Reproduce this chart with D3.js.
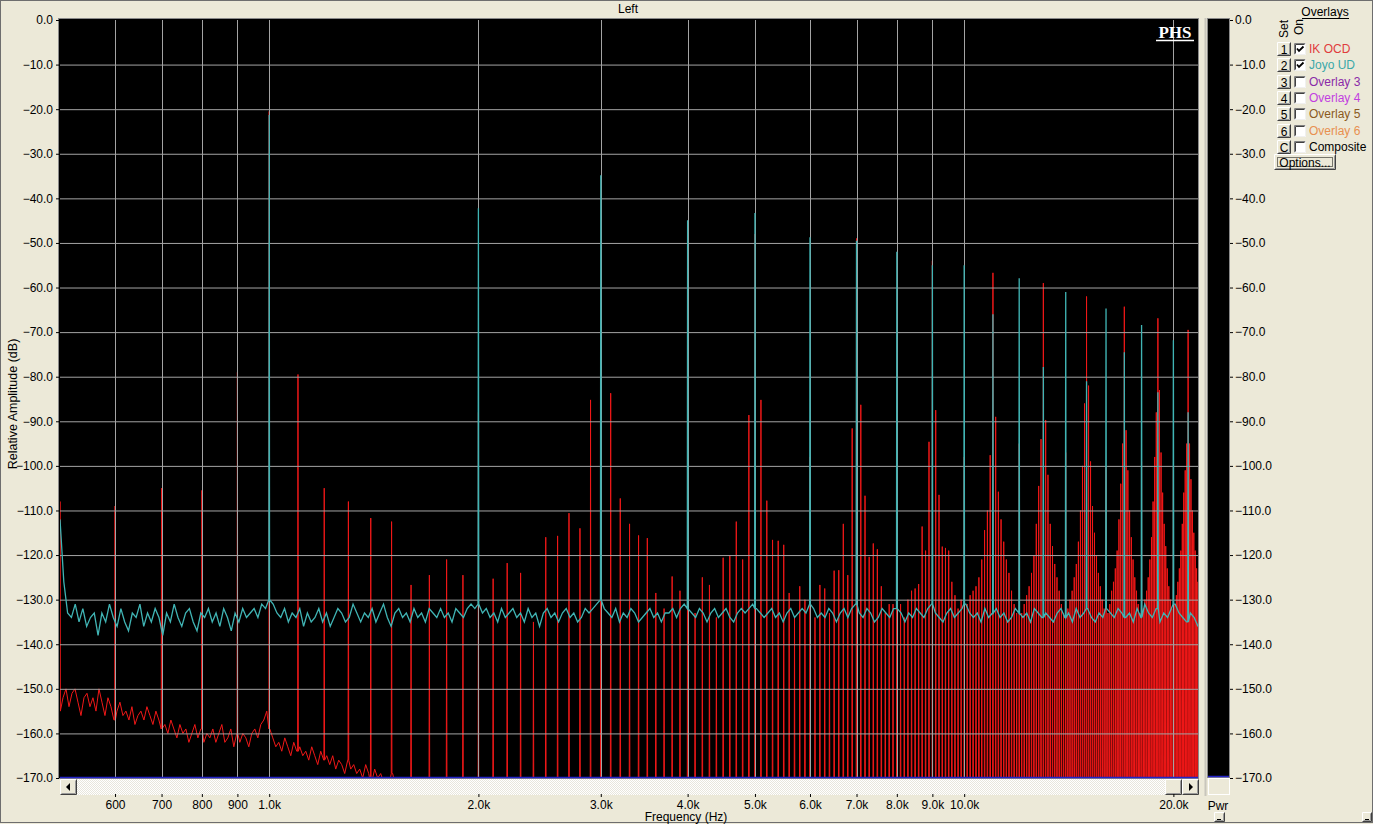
<!DOCTYPE html>
<html>
<head>
<meta charset="utf-8">
<script src="https://cdn.jsdelivr.net/npm/d3@7"></script>
<style>
  body { margin: 0; background: #ece9d8; }
  svg { display: block; font-family: 'Liberation Sans', Arial, sans-serif; }
  .axis text { font-size: 12px; fill: #000; font-family: 'Liberation Sans', Arial, sans-serif; }
  .axis path.domain { display: none; }
  .axis line { stroke: #000; }
</style>
</head>
<body>
<div id="chart"></div>
<script>
const freqRange = [500, 21700];
const dbRange = [-170, 0];

const yTicks = [0, -10, -20, -30, -40, -50, -60, -70, -80, -90, -100, -110, -120, -130, -140, -150, -160, -170];
const xTicks = [600, 700, 800, 900, 1000, 2000, 3000, 4000, 5000, 6000, 7000, 8000, 9000, 10000, 20000];

// Joyo UD: harmonic peaks of the 1 kHz tone
const joyoPeakHz = [1000, 2000, 3000, 4000, 5000, 6000, 7000, 8000, 9000, 10000,
  11000, 12000, 13000, 14000, 15000, 16000, 17000, 18000, 19000, 20000, 21000];
const joyoPeakDb = [-21.3, -42.2, -34.8, -44.9, -43.3, -48.7, -49.5, -52, -55, -55,
  -66, -57.9, -77.8, -61, -81, -64.7, -74.5, -68.4, -83.5, -71.8, -88];

// Joyo UD: noise floor, log-spaced samples from 500 Hz to 21.7 kHz
const joyoNoiseDb = [
  -112, -126, -133, -134, -131, -135, -132, -136, -134, -133, -138, -133, -135, -131, -134, -136, -132, -135, -137, -133,
  -134, -131, -136, -133, -135, -132, -134, -138, -133, -135, -131, -134, -136, -133, -132, -135, -137, -133, -134, -132,
  -135, -133, -136, -132, -134, -137, -133, -135, -132, -134, -133, -132, -134, -131, -132, -130, -131, -133, -134, -132,
  -135, -133, -134, -132, -136, -133, -135, -134, -132, -135, -133, -136, -134, -132, -133, -135, -134, -131, -133, -135,
  -133, -134, -132, -135, -133, -131, -134, -136, -133, -132, -134, -133, -135, -132, -134, -133, -135, -132, -133, -134,
  -132, -134, -133, -135, -132, -133, -134, -132, -131, -132, -131, -133, -132, -134, -133, -135, -132, -134, -133, -132,
  -134, -133, -135, -132, -134, -133, -136, -133, -132, -134, -133, -135, -133, -132, -134, -133, -135, -134, -132, -133,
  -132, -131, -130, -132, -133, -134, -132, -135, -133, -134, -132, -133, -135, -134, -133, -132, -134, -133, -135, -133,
  -133, -132, -134, -132, -131, -132, -133, -134, -132, -133, -135, -133, -132, -134, -133, -132, -134, -135, -133, -132,
  -133, -132, -131, -132, -133, -134, -133, -132, -134, -133, -135, -133, -132, -134, -133, -132, -133, -131, -132, -134,
  -133, -134, -132, -133, -135, -133, -132, -134, -132, -131, -133, -134, -132, -133, -135, -134, -132, -133, -134, -132,
  -132, -133, -135, -133, -134, -132, -133, -134, -132, -131, -133, -134, -135, -133, -132, -134, -133, -132, -131, -133,
  -134, -133, -135, -132, -134, -133, -132, -134, -133, -135, -134, -132, -133, -134, -133, -135, -132, -133, -134, -133,
  -134, -135, -133, -132, -134, -133, -135, -132, -134, -133, -132, -134, -135, -133, -134, -132, -133, -134, -132, -133,
  -134, -133, -135, -132, -134, -131, -133, -134, -132, -135, -133, -134, -132, -131, -133, -134, -135, -133, -134, -136
];

// IK OCD: one spectral line every 100 Hz, 500 Hz .. 21.7 kHz
const ikLineDb = [
  -108, -109, -105, -105.5, -79,
  -20.5, -79.5, -105, -108, -111.7, -112.5, -126.7, -124.5, -121, -124.5,
  -88, -125.3, -121.8, -124, -135, -116, -115.7, -110.6, -114, -85.2,
  -80, -83.7, -107.3, -113, -115.6, -116.2, -128.5, -132, -124.8, -128,
  -95, -133, -125, -126.7, -134, -120.6, -120.1, -112.5, -121, -88.6,
  -48, -85.2, -107.8, -116.6, -116.8, -117.7, -128.5, -134, -127, -130,
  -98, -134, -126.7, -127.5, -133, -123.5, -123.4, -113, -124.5, -91.6,
  -49, -86.3, -106.7, -120.4, -117.4, -118.7, -127, -133, -131, -131,
  -100, -131, -134, -130, -128, -127.5, -126.5, -113.6, -119, -94.6,
  -54, -87.5, -106.5, -118.1, -118.4, -119, -126, -129, -132, -130,
  -98, -131, -129, -128, -127, -125, -121, -114.4, -110, -97.6,
  -56.7, -89, -105.8, -112, -117, -121, -124, -128, -131, -133,
  -95, -133, -131, -129, -127, -124, -120, -113, -104.5, -94,
  -59, -89.7, -102, -113, -118, -122, -125, -128, -131, -133,
  -97, -132, -130, -128, -125, -122, -117, -110, -100, -86,
  -62, -82, -99, -109, -115, -120, -124, -127, -130, -132,
  -100, -133, -131, -128, -126, -123, -119, -112, -104, -95,
  -64.3, -92, -101, -110, -116, -121, -125, -128, -131, -133,
  -99, -132, -130, -128, -125, -121, -116, -108, -98, -88,
  -66.9, -83, -97, -106, -113, -118, -123, -127, -130, -132,
  -100, -131, -129, -126, -123, -119, -113, -106, -101, -95,
  -69.5, -95, -103, -110, -115, -119, -123, -126
];

// IK OCD: noise floor, log-spaced samples from 500 Hz to 1.8 kHz (below -170 after that)
const ikFloorRange = [500, 1800];
const ikFloorDb = [
  -155, -152, -150, -154, -151, -150, -153, -156, -152, -151,
  -154, -152, -155, -150, -153, -156, -152, -154, -157, -155,
  -153, -156, -155, -157, -154, -158, -156, -155, -157, -154,
  -156, -158, -155, -157, -159, -158, -160, -157, -159, -161,
  -158, -160, -159, -162, -160, -158, -161, -159, -162, -160,
  -161, -159, -162, -160, -158, -162, -161, -159, -163, -160,
  -162, -160, -161, -163, -160, -159, -161, -158, -157, -155,
  -159, -161, -163, -162, -164, -161, -163, -165, -162, -164,
  -163, -165, -164, -166, -163, -165, -167, -164, -166, -165,
  -167, -165, -168, -166, -167, -169, -166, -168, -167, -169,
  -168, -170, -167, -169, -171, -168, -170, -169, -171, -170,
  -171, -169, -172, -170, -171, -173, -170, -172, -171, -173,
  -172, -174, -171, -173, -175, -172, -174, -173, -175, -174
];

const overlayNames = ['IK OCD', 'Joyo UD', 'Overlay 3', 'Overlay 4', 'Overlay 5', 'Overlay 6', 'Composite'];
const overlaySets = ['1', '2', '3', '4', '5', '6', 'C'];
const overlayOn = [true, true, false, false, false, false, false];

const draw = () => {
  const dimensions = {
    width: 1373,
    height: 824,
    plot: { left: 60, right: 1198, top: 20, bottom: 778 }
  };
  const plot = dimensions.plot;
  const colors = {
    ik: '#f01818',
    joyo: '#40b4b4',
    grid: '#a4a4a4',
    face: '#ece9d8',
    legend: ['#e03c3c', '#3aa8a8', '#8a2aa8', '#c23ee0', '#8a5a1e', '#e89050', '#000']
  };
  const spikeWidth = 0.0011;

  const svg = d3.select('#chart')
    .append('svg')
    .attr('width', dimensions.width)
    .attr('height', dimensions.height);

  svg.append('rect')
    .attr('width', dimensions.width)
    .attr('height', dimensions.height)
    .attr('fill', colors.face);
  svg.append('rect')
    .attr('x', 0.5).attr('y', 0.5)
    .attr('width', dimensions.width - 1).attr('height', dimensions.height - 2)
    .attr('fill', 'none').attr('stroke', '#6e6e6e');

  const xScale = d3.scaleLog().domain(freqRange).range([plot.left, plot.right]);
  const yScale = d3.scaleLinear().domain(dbRange).range([plot.bottom, plot.top]);

  // plot background
  svg.append('rect')
    .attr('x', plot.left - 1.5).attr('y', plot.top - 1.5)
    .attr('width', plot.right - plot.left + 2).attr('height', plot.bottom - plot.top + 2)
    .attr('fill', '#000').attr('stroke', '#8a8a8a');

  svg.append('clipPath').attr('id', 'plot-clip')
    .append('rect')
    .attr('x', plot.left).attr('y', plot.top)
    .attr('width', plot.right - plot.left).attr('height', plot.bottom - plot.top);

  // build series from the arrays
  const logGrid = (range, n) => d3.range(n).map((i) => range[0] * Math.pow(range[1] / range[0], i / (n - 1)));
  const joyoNoiseHz = logGrid(freqRange, joyoNoiseDb.length);
  const ikFloorHz = logGrid(ikFloorRange, ikFloorDb.length);
  const ikLineHz = ikLineDb.map((_, i) => freqRange[0] + i * 100);

  const nearest = (grid, values, hz, fallback) => {
    if (hz > grid[grid.length - 1] * 1.01) return fallback;
    return values[d3.minIndex(grid, (g) => Math.abs(Math.log(g / hz)))];
  };

  const buildSeries = (floorHz, floorDb, peakHz, peakDb, fallback) => {
    const spikes = peakHz.flatMap((hz, i) => {
      const base = nearest(floorHz, floorDb, hz, fallback);
      return [
        { hz: hz * (1 - spikeWidth), db: base },
        { hz: hz, db: peakDb[i] },
        { hz: hz * (1 + spikeWidth), db: base }
      ];
    });
    const floor = floorHz
      .map((hz, i) => ({ hz: hz, db: floorDb[i] }))
      .filter((d) => !peakHz.some((p) => Math.abs(d.hz / p - 1) < spikeWidth * 1.2));
    return floor.concat(spikes).sort((a, b) => a.hz - b.hz);
  };

  const ikSeries = buildSeries(ikFloorHz, ikFloorDb, ikLineHz, ikLineDb, -176);
  const joyoSeries = buildSeries(joyoNoiseHz, joyoNoiseDb, joyoPeakHz, joyoPeakDb, -133);

  const line = d3.line()
    .x((d) => xScale(d.hz))
    .y((d) => yScale(d.db));

  const container = svg.append('g').attr('clip-path', 'url(#plot-clip)');

  container.append('path')
    .datum(ikSeries)
    .attr('d', line)
    .attr('fill', 'none')
    .attr('stroke', colors.ik)
    .attr('stroke-width', 1);

  // grid
  container.append('g')
    .selectAll('line')
    .data(yTicks.slice(1, -1))
    .join('line')
    .attr('x1', plot.left).attr('x2', plot.right)
    .attr('y1', (d) => yScale(d) + 0.5).attr('y2', (d) => yScale(d) + 0.5)
    .attr('stroke', colors.grid);

  container.append('g')
    .selectAll('line')
    .data(xTicks)
    .join('line')
    .attr('x1', (d) => Math.round(xScale(d)) + 0.5).attr('x2', (d) => Math.round(xScale(d)) + 0.5)
    .attr('y1', plot.top).attr('y2', plot.bottom)
    .attr('stroke', colors.grid);

  container.append('path')
    .datum(joyoSeries)
    .attr('d', line)
    .attr('fill', 'none')
    .attr('stroke', colors.joyo)
    .attr('stroke-width', 1.3);

  svg.append('line')
    .attr('x1', plot.left).attr('x2', plot.right)
    .attr('y1', plot.bottom - 0.5).attr('y2', plot.bottom - 0.5)
    .attr('stroke', '#2323c8').attr('stroke-width', 1.5);

  // PHS logo
  svg.append('text')
    .attr('x', 1175).attr('y', 38)
    .attr('text-anchor', 'middle')
    .attr('fill', '#fff')
    .style('font-family', "'Liberation Serif', 'Times New Roman', serif")
    .style('font-weight', 'bold')
    .style('font-size', '17px')
    .text('PHS');
  svg.append('line')
    .attr('x1', 1156).attr('x2', 1194).attr('y1', 40.5).attr('y2', 40.5)
    .attr('stroke', '#fff').attr('stroke-width', 1.5);

  // scrollbar under the plot
  const pattern = svg.append('defs').append('pattern')
    .attr('id', 'dither').attr('width', 2).attr('height', 2)
    .attr('patternUnits', 'userSpaceOnUse');
  pattern.append('rect').attr('width', 2).attr('height', 2).attr('fill', '#fff');
  pattern.append('rect').attr('width', 1).attr('height', 1).attr('fill', '#e8e6dc');
  pattern.append('rect').attr('x', 1).attr('y', 1).attr('width', 1).attr('height', 1).attr('fill', '#e8e6dc');

  svg.append('rect')
    .attr('x', plot.left).attr('y', plot.bottom + 1)
    .attr('width', plot.right - plot.left).attr('height', 16)
    .attr('fill', 'url(#dither)');

  const bevel = (x, y, w, h) => {
    const g = svg.append('g').attr('transform', `translate(${x},${y})`);
    g.append('rect').attr('width', w).attr('height', h).attr('fill', colors.face);
    g.append('path').attr('d', `M0.5,${h - 0.5}V0.5H${w - 0.5}`).attr('fill', 'none').attr('stroke', '#fff');
    g.append('path').attr('d', `M0.5,${h - 0.5}H${w - 0.5}V0.5`).attr('fill', 'none').attr('stroke', '#404040');
    g.append('path').attr('d', `M1.5,${h - 1.5}H${w - 1.5}V1.5`).attr('fill', 'none').attr('stroke', '#9a9a9a');
    return g;
  };

  bevel(plot.left, plot.bottom + 1, 17, 16)
    .append('path').attr('d', 'M6,8L10,4V12Z').attr('fill', '#000');
  bevel(1165, plot.bottom + 1, 17, 16);
  bevel(1182, plot.bottom + 1, 17, 16)
    .append('path').attr('d', 'M11,8L7,4V12Z').attr('fill', '#000');

  // Pwr bar
  svg.append('line')
    .attr('x1', 1205.5).attr('x2', 1205.5).attr('y1', 18).attr('y2', 796)
    .attr('stroke', '#c8c6bc').attr('stroke-width', 2);
  svg.append('rect')
    .attr('x', 1207.5).attr('y', 18.5).attr('width', 22).attr('height', 759)
    .attr('fill', '#000').attr('stroke', '#8a8a8a');
  svg.append('line')
    .attr('x1', 1208).attr('x2', 1229).attr('y1', 776.5).attr('y2', 776.5)
    .attr('stroke', '#2323c8').attr('stroke-width', 1.5);
  svg.append('rect')
    .attr('x', 1208.5).attr('y', 778.5).attr('width', 21).attr('height', 16)
    .attr('fill', colors.face).attr('stroke', '#fff');

  // axes
  const yAxisLeft = d3.axisLeft(yScale)
    .tickValues(yTicks)
    .tickSize(3)
    .tickPadding(3)
    .tickFormat(d3.format('.1f'));
  svg.append('g')
    .classed('axis', true)
    .attr('transform', `translate(${plot.left - 1},0)`)
    .call(yAxisLeft);

  const yAxisRight = d3.axisRight(yScale)
    .tickValues(yTicks)
    .tickSize(3)
    .tickPadding(2)
    .tickFormat(d3.format('.1f'));
  svg.append('g')
    .classed('axis', true)
    .attr('transform', 'translate(1230,0)')
    .call(yAxisRight);

  const xAxis = d3.axisBottom(xScale)
    .tickValues(xTicks)
    .tickSize(3)
    .tickPadding(3)
    .tickFormat((d) => (d < 1000 ? String(d) : d3.format('.1f')(d / 1000) + 'k'));
  svg.append('g')
    .classed('axis', true)
    .attr('transform', 'translate(0,794)')
    .call(xAxis);

  svg.append('text')
    .attr('x', 686).attr('y', 821)
    .attr('text-anchor', 'middle')
    .style('font-size', '12px')
    .text('Frequency (Hz)');

  svg.append('text')
    .attr('x', 628).attr('y', 13)
    .attr('text-anchor', 'middle')
    .style('font-size', '12px')
    .text('Left');

  svg.append('text')
    .attr('transform', 'translate(17,404) rotate(-90)')
    .attr('text-anchor', 'middle')
    .style('font-size', '12.5px')
    .text('Relative Amplitude (dB)');

  svg.append('text')
    .attr('x', 1218).attr('y', 810)
    .attr('text-anchor', 'middle')
    .style('font-size', '12px')
    .text('Pwr');
  bevel(1214, 812, 11, 10)
    .append('line').attr('x1', 3).attr('x2', 7).attr('y1', 7.5).attr('y2', 7.5).attr('stroke', '#000');
  bevel(1362, 812, 10, 10)
    .append('line').attr('x1', 3).attr('x2', 7).attr('y1', 7.5).attr('y2', 7.5).attr('stroke', '#000');

  // overlays legend
  const legend = svg.append('g');
  legend.append('text')
    .attr('x', 1325).attr('y', 16)
    .attr('text-anchor', 'middle')
    .style('font-size', '12px')
    .text('Overlays');
  legend.append('line')
    .attr('x1', 1302).attr('x2', 1349).attr('y1', 18.5).attr('y2', 18.5)
    .attr('stroke', '#000');
  legend.append('text')
    .attr('transform', 'translate(1288,38) rotate(-90)')
    .style('font-size', '12px')
    .text('Set');
  legend.append('text')
    .attr('transform', 'translate(1303,35) rotate(-90)')
    .style('font-size', '12px')
    .text('On');

  overlayNames.forEach((name, i) => {
    const top = Math.round(42 + i * 16.3);
    bevel(1277, top, 14, 14)
      .append('text')
      .attr('x', 7).attr('y', 11.5)
      .attr('text-anchor', 'middle')
      .style('font-size', '12px')
      .text(overlaySets[i]);

    const box = legend.append('g').attr('transform', `translate(1294,${top + 1})`);
    box.append('rect').attr('width', 12).attr('height', 12).attr('fill', '#fff');
    box.append('path').attr('d', 'M0.5,11.5V0.5H11.5').attr('fill', 'none').attr('stroke', '#808080');
    box.append('path').attr('d', 'M1.5,10.5V1.5H10.5').attr('fill', 'none').attr('stroke', '#404040');
    box.append('path').attr('d', 'M0.5,11.5H11.5V0.5').attr('fill', 'none').attr('stroke', '#f0f0f0');
    if (overlayOn[i]) {
      box.append('path')
        .attr('d', 'M3,5.5L5,8L9.5,3.5')
        .attr('fill', 'none').attr('stroke', '#000').attr('stroke-width', 1.8);
    }

    legend.append('text')
      .attr('x', 1309).attr('y', top + 11)
      .attr('fill', colors.legend[i])
      .style('font-size', '12px')
      .text(name);
  });

  const options = bevel(1274, 154, 62, 16);
  options.append('rect')
    .attr('x', 3.5).attr('y', 3.5).attr('width', 55).attr('height', 9)
    .attr('fill', 'none').attr('stroke', '#000').attr('stroke-dasharray', '1,1');
  options.append('text')
    .attr('x', 31).attr('y', 12.5)
    .attr('text-anchor', 'middle')
    .style('font-size', '12px')
    .text('Options...');
};

draw();
</script>
</body>
</html>
